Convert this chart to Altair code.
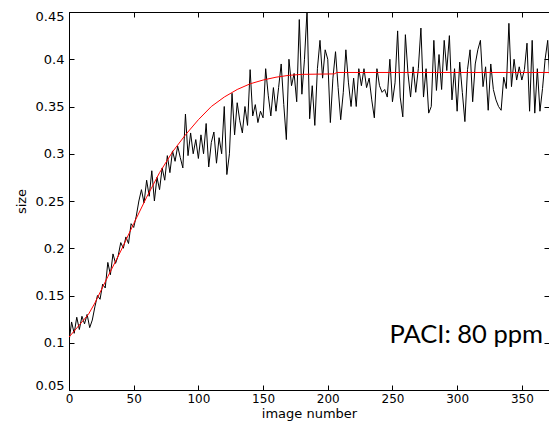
import altair as alt
import pandas as pd

# ---- data ----
image_number = list(range(0, 378, 2))
size_values = [
    0.101, 0.122, 0.110, 0.127, 0.114, 0.128, 0.120, 0.130, 0.116, 0.124,
    0.138, 0.150, 0.146, 0.162, 0.158, 0.185, 0.172, 0.194, 0.184, 0.192,
    0.206, 0.200, 0.212, 0.205, 0.226, 0.222, 0.234, 0.250, 0.262, 0.248,
    0.272, 0.255, 0.282, 0.250, 0.275, 0.262, 0.285, 0.272, 0.298, 0.280,
    0.303, 0.292, 0.308, 0.296, 0.285, 0.342, 0.298, 0.322, 0.300, 0.315,
    0.295, 0.320, 0.300, 0.332, 0.286, 0.312, 0.323, 0.290, 0.317, 0.300,
    0.350, 0.278, 0.300, 0.364, 0.320, 0.354, 0.335, 0.322, 0.350, 0.330,
    0.389, 0.340, 0.352, 0.333, 0.345, 0.338, 0.390, 0.362, 0.340, 0.370,
    0.345, 0.370, 0.395, 0.352, 0.315, 0.400, 0.372, 0.385, 0.355, 0.442,
    0.363, 0.400, 0.452, 0.337, 0.372, 0.330, 0.390, 0.420, 0.380, 0.410,
    0.400, 0.333, 0.380, 0.408, 0.370, 0.336, 0.365, 0.410, 0.375, 0.350,
    0.380, 0.350, 0.390, 0.372, 0.390, 0.370, 0.380, 0.357, 0.338, 0.390,
    0.372, 0.365, 0.368, 0.360, 0.400, 0.355, 0.375, 0.430, 0.360, 0.339,
    0.426, 0.385, 0.360, 0.392, 0.365, 0.390, 0.433, 0.360, 0.390, 0.343,
    0.350, 0.420, 0.367, 0.405, 0.368, 0.420, 0.388, 0.425, 0.357, 0.390,
    0.345, 0.397, 0.365, 0.334, 0.389, 0.410, 0.355, 0.395, 0.410, 0.420,
    0.371, 0.392, 0.346, 0.395, 0.368, 0.357, 0.350, 0.346, 0.381, 0.369,
    0.438, 0.371, 0.400, 0.378, 0.392, 0.378, 0.389, 0.417, 0.345, 0.420,
    0.343, 0.390, 0.345, 0.369, 0.400, 0.420, 0.367, 0.383, 0.370,
]

fit_x = [0, 10, 15, 20, 30, 40, 50, 60, 70, 80, 90, 100, 110, 120, 130,
         140, 150, 160, 170, 180, 205, 207, 378]
fit_y = [0.106, 0.122, 0.130, 0.142, 0.170, 0.197, 0.226, 0.254, 0.280,
         0.302, 0.320, 0.336, 0.350, 0.360, 0.368, 0.374, 0.378, 0.381,
         0.383, 0.384, 0.3845, 0.386, 0.386]

x_ticks = [0, 50, 100, 150, 200, 250, 300, 350]
y_ticks = [0.05, 0.1, 0.15, 0.2, 0.25, 0.3, 0.35, 0.4, 0.45]

note_text = ["PACI: 80 ppm"]
note_x = [307]
note_y = [0.0997]

df = pd.DataFrame({"image": image_number, "size": size_values})
df_fit = pd.DataFrame({"image": fit_x, "size": fit_y})
df_note = pd.DataFrame({"x": note_x, "y": note_y, "t": note_text})

FONT = "DejaVu Sans"
xs = alt.Scale(domain=[0, 371], nice=False, zero=False)
ys = alt.Scale(domain=[0.05, 0.45], nice=False, zero=False)

common = dict(domain=False, grid=False, tickSize=5, tickColor="black",
              tickWidth=1, offset=-5, labelFont=FONT, labelFontSize=13,
              labelColor="black", titleFont=FONT, titleFontSize=13,
              titleColor="black", titleFontWeight="normal")

black = alt.Chart(df).mark_line(color="black", strokeWidth=1, clip=True).encode(
    x=alt.X("image:Q", scale=xs,
            axis=alt.Axis(orient="bottom", values=x_ticks, title="image number",
                          labelPadding=3, titleY=32, titleBaseline="alphabetic",
                          labelFlush=False, **{**common, "labelFontSize": 12})),
    y=alt.Y("size:Q", scale=ys,
            axis=alt.Axis(orient="left", values=y_ticks, format="~g", title="size",
                          labelPadding=5, titleX=-49, titleY=189, titleAngle=270,
                          titleAlign="center", titleBaseline="alphabetic",
                          labelFlush=True, labelFlushOffset=2, **common)),
)

red = alt.Chart(df_fit).mark_line(color="#ff0000", strokeWidth=1, clip=True).encode(
    x=alt.X("image:Q", scale=xs,
            axis=alt.Axis(orient="top", values=x_ticks, labels=False, title=None, **common)),
    y=alt.Y("size:Q", scale=ys,
            axis=alt.Axis(orient="right", values=y_ticks, labels=False, title=None, **common)),
)

note = alt.Chart(df_note).mark_text(font="Lato", fontSize=25.5, align="center",
                                     baseline="alphabetic", color="black").encode(
    x=alt.X("x:Q", scale=xs, axis=None),
    y=alt.Y("y:Q", scale=ys, axis=None),
    text="t:N",
)

chart = alt.layer(black, red, note).resolve_axis(
    x="independent", y="independent"
).properties(
    width=480, height=378,
    padding={"left": 61, "top": 4, "right": 0, "bottom": 33},
    autosize=alt.AutoSizeParams(type="none"),
    background="white",
).configure_view(stroke="black", strokeWidth=1)

chart.save("out.html", embed_options={"renderer": "svg", "actions": False})
